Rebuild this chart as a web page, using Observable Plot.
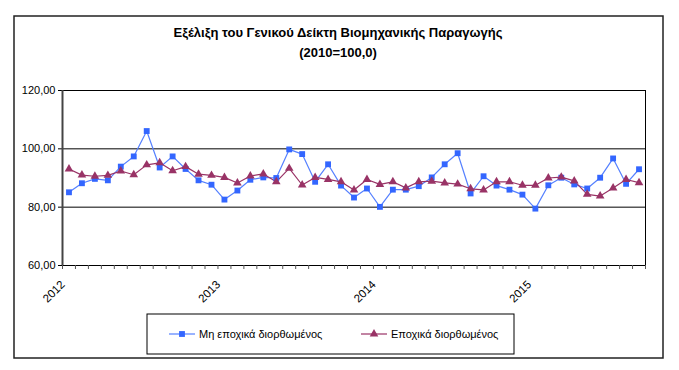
<!DOCTYPE html>
<html>
<head>
<meta charset="utf-8">
<script src="https://cdn.jsdelivr.net/npm/d3@7"></script>
<script src="https://cdn.jsdelivr.net/npm/@observablehq/plot@0.6"></script>
<style>
  html, body { margin: 0; padding: 0; background: #fff; }
  #chart { width: 679px; height: 370px; }
  svg { font-family: "Liberation Sans", Arial, sans-serif; }
</style>
</head>
<body>
<div id="chart"></div>
<script>
const titleLine1 = "Εξέλιξη του Γενικού Δείκτη Βιομηχανικής Παραγωγής";
const titleLine2 = "(2010=100,0)";
const seriesNames = ["Μη εποχικά διορθωμένος", "Εποχικά διορθωμένος"];
const years = ["2012", "2013", "2014", "2015"];
const yTicks = [60, 80, 100, 120];

// Monthly values, Jan 2012 – Sep 2015
const nonAdjusted = [
  85.1, 88.2, 89.7, 89.2, 93.9, 97.4, 106.1, 93.6, 97.4, 93.1, 89.2, 87.7,
  82.6, 85.7, 89.4, 90.2, 90.0, 99.8, 98.2, 88.7, 94.7, 87.4, 83.3, 86.4,
  80.1, 86.0, 86.0, 87.2, 90.2, 94.7, 98.5, 84.7, 90.6, 87.4, 86.0, 84.3,
  79.5, 87.5, 90.1, 87.8, 86.4, 90.1, 96.7, 88.0, 93.0
];
const adjusted = [
  93.1, 91.0, 90.6, 90.9, 92.4, 91.1, 94.5, 95.2, 92.5, 93.9, 91.3, 90.9,
  90.2, 88.3, 90.7, 91.4, 88.7, 93.3, 87.6, 90.2, 89.5, 88.7, 85.9, 89.5,
  87.8, 88.7, 86.6, 88.7, 88.9, 88.3, 87.9, 86.3, 85.9, 88.7, 88.7, 87.5,
  87.5, 90.0, 90.3, 89.0, 84.4, 83.8, 86.6, 89.5, 88.4
];

const n = nonAdjusted.length;
const rowsA = nonAdjusted.map((v, i) => ({ i: i + 0.5, v }));
const rowsB = adjusted.map((v, i) => ({ i: i + 0.5, v }));
const yearRows = years.map((y, k) => ({ i: k * 12 + 0.5, label: y }));

const blue = "#3366ff";
const blueLine = "#5580ff";
const purple = "#993366";

const plot = Plot.plot({
  width: 679,
  height: 370,
  marginLeft: 62,
  marginRight: 34,
  marginTop: 90,
  marginBottom: 105,
  style: { fontFamily: "'Liberation Sans', Arial, sans-serif", fontSize: "11px", background: "white" },
  x: { type: "linear", domain: [0, n] },
  y: { domain: [60, 120] },
  marks: [
    Plot.gridY([80, 100, 120], { stroke: "#000", strokeOpacity: 1, strokeWidth: 1 }),
    Plot.ruleY([60], { stroke: "#000", strokeWidth: 1 }),
    Plot.ruleX([n], { stroke: "#000", strokeWidth: 1 }),
    Plot.axisX({ ticks: d3.range(0, n + 1), tickSize: 4, tickFormat: () => "", label: null, stroke: "#555" }),
    Plot.axisY({ ticks: yTicks, tickSize: 4, tickPadding: 3, label: null, fill: "#000", fontSize: 11,
      tickFormat: d => d.toFixed(2).replace(".", ",") }),
    Plot.ruleX([0], { stroke: "#444", strokeWidth: 2 }),
    Plot.text(yearRows, { x: "i", y: 60, text: "label", rotate: -45, textAnchor: "end", dx: -6, dy: 17, fontSize: 11.5, fill: "#000" }),
    Plot.line(rowsA, { x: "i", y: "v", stroke: blueLine, strokeWidth: 1.2 }),
    Plot.line(rowsB, { x: "i", y: "v", stroke: purple, strokeWidth: 1.2 }),
    Plot.dot(rowsA, { x: "i", y: "v", symbol: "square", r: 3.3, fill: blue, stroke: "none" }),
    Plot.dot(rowsB, { x: "i", y: "v", symbol: "triangle", r: 3.2, fill: purple, stroke: "none" })
  ]
});

document.getElementById("chart").appendChild(plot);
const svg = d3.select(plot);

// outer frame
svg.append("rect").attr("x", 14).attr("y", 16).attr("width", 649).attr("height", 342)
  .attr("fill", "none").attr("stroke", "#222").attr("stroke-width", 1.5);

// titles
svg.append("text").attr("x", 338).attr("y", 37).attr("text-anchor", "middle")
  .attr("font-weight", "bold").attr("font-size", 13).attr("fill", "#000").text(titleLine1);
svg.append("text").attr("x", 338).attr("y", 57).attr("text-anchor", "middle")
  .attr("font-weight", "bold").attr("font-size", 13).attr("fill", "#000").text(titleLine2);

// legend
svg.append("rect").attr("x", 147).attr("y", 314).attr("width", 367).attr("height", 40)
  .attr("fill", "none").attr("stroke", "#000").attr("stroke-width", 1);
const items = [
  { x0: 169, x1: 195, tx: 199, color: blueLine, mcolor: blue, sym: d3.symbolSquare, size: 34, name: seriesNames[0] },
  { x0: 361, x1: 387, tx: 391, color: purple, mcolor: purple, sym: d3.symbolTriangle, size: 32, name: seriesNames[1] }
];
items.forEach(it => {
  svg.append("line").attr("x1", it.x0).attr("x2", it.x1).attr("y1", 334).attr("y2", 334)
    .attr("stroke", it.color).attr("stroke-width", 1.2);
  svg.append("path").attr("d", d3.symbol(it.sym, it.size)())
    .attr("transform", `translate(${(it.x0 + it.x1) / 2},334)`).attr("fill", it.mcolor);
  svg.append("text").attr("x", it.tx).attr("y", 338).attr("text-anchor", "start")
    .attr("font-size", 11).attr("fill", "#000").text(it.name);
});
</script>
</body>
</html>
